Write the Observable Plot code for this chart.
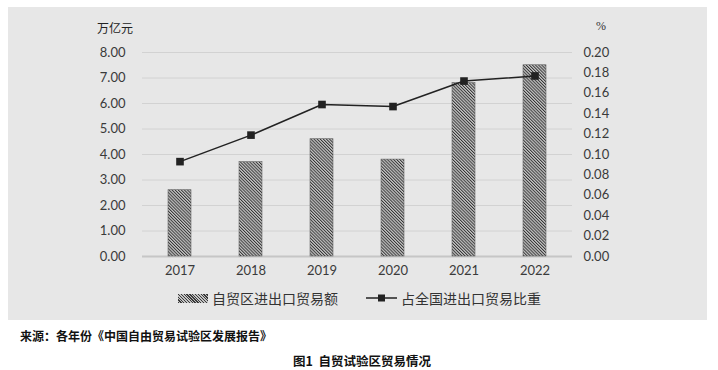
<!DOCTYPE html>
<html><head><meta charset="utf-8">
<script src="https://cdn.jsdelivr.net/npm/d3@7"></script>
<script src="https://cdn.jsdelivr.net/npm/@observablehq/plot@0.6"></script>
<style>
body{margin:0;background:#fff;width:718px;height:370px;position:relative;overflow:hidden;font-family:"Noto Sans CJK SC",sans-serif;}
#panel{position:absolute;left:8px;top:7px;width:699px;height:313px;background:#e7e7e7;}
#chart{position:absolute;left:0;top:0;}
.t{position:absolute;white-space:nowrap;color:#333;}
</style></head><body>
<div id="panel"></div>
<div id="chart"></div>
<div class="t" style="left:97px;top:19px;font-size:12px;font-family:'Noto Sans CJK SC';color:#222">万亿元</div>
<div class="t" style="left:596px;top:19px;font-size:12px;font-family:'Liberation Serif';color:#333">%</div>
<div class="t" style="left:178px;top:288px;font-size:14px;font-family:'Noto Sans CJK SC';color:#333;display:flex;align-items:center">
  <span style="display:inline-block;width:30px;height:9px;margin-right:4px;background:repeating-linear-gradient(45deg,#3a3a3a 0 0.9px,#c4c4c4 0.9px 2px);"></span>自贸区进出口贸易额
</div>
<div class="t" style="left:366px;top:288px;font-size:14px;font-family:'Noto Sans CJK SC';color:#333;display:flex;align-items:center">
  <svg width="32" height="10" style="margin-right:3px"><line x1="0" y1="5" x2="31" y2="5" stroke="#222" stroke-width="1.5"/><rect x="12" y="1.5" width="7" height="7" fill="#222"/></svg>占全国进出口贸易比重
</div>
<div class="t" style="left:20px;top:327px;font-size:12px;font-weight:bold;font-family:'Noto Sans CJK SC';color:#111">来源：各年份《中国自由贸易试验区发展报告》</div>
<div class="t" style="left:293px;top:351px;font-size:12.5px;font-family:'Noto Sans CJK SC';color:#111;font-weight:bold">图1&nbsp;&nbsp;自贸试验区贸易情况</div>
<script>
const years = ["2017","2018","2019","2020","2021","2022"];
const tradeValue = [2.6, 3.7, 4.6, 3.8, 6.8, 7.5];
const shareOfNational = [0.093, 0.119, 0.149, 0.147, 0.172, 0.177];
const leftTicks = [0,1,2,3,4,5,6,7,8];
const rightTicks = [0,0.02,0.04,0.06,0.08,0.10,0.12,0.14,0.16,0.18,0.20];
const ratio = 8 / 0.20;

const bars = years.map((y,i)=>({year:y, value:tradeValue[i]}));
const pts = years.map((y,i)=>({year:y, share:shareOfNational[i]}));

const plot = Plot.plot({
  width:718, height:370,
  marginLeft:142, marginRight:146, marginTop:52, marginBottom:114,
  style:{background:"transparent", fontFamily:"Lato, 'Open Sans', sans-serif", fontSize:"13px", color:"#3a3a3a"},
  x:{domain:years, paddingInner:0.67, paddingOuter:0.335, axis:null},
  y:{domain:[0,8], axis:null},
  marks:[
    Plot.ruleY(leftTicks.filter(d=>d>0), {stroke:"#d2d2d2", strokeWidth:1}),
    Plot.ruleY([0], {stroke:"#c6c6c6", strokeWidth:2}),
    Plot.axisY({anchor:"left", ticks:leftTicks, tickFormat:d=>d.toFixed(2), tickSize:0, tickPadding:17, label:null}),
    Plot.axisY({anchor:"right", ticks:rightTicks.map(d=>d*ratio), tickFormat:d=>(d/ratio).toFixed(2), tickSize:0, tickPadding:11, label:null}),
    Plot.axisX({anchor:"bottom", tickSize:0, tickPadding:9, label:null}),
    Plot.barY(bars, {x:"year", y:"value", fill:"url(#hatch)", stroke:"#666", strokeWidth:0.6}),
    Plot.line(pts, {x:"year", y:d=>d.share*ratio, stroke:"#222", strokeWidth:1.5}),
    Plot.dot(pts, {x:"year", y:d=>d.share*ratio, symbol:"square", r:4.3, fill:"#222", stroke:"none"})
  ]
});
const svg = d3.select(plot);
const defs = svg.insert("defs", ":first-child");
const pat = defs.append("pattern").attr("id","hatch").attr("patternUnits","userSpaceOnUse")
  .attr("width",2.2).attr("height",2.2).attr("patternTransform","rotate(-45)");
pat.append("rect").attr("width",2.2).attr("height",2.2).attr("fill","#c6c6c6");
pat.append("rect").attr("width",0.95).attr("height",2.2).attr("fill","#333");
document.getElementById("chart").appendChild(plot);
</script>
</body></html>
